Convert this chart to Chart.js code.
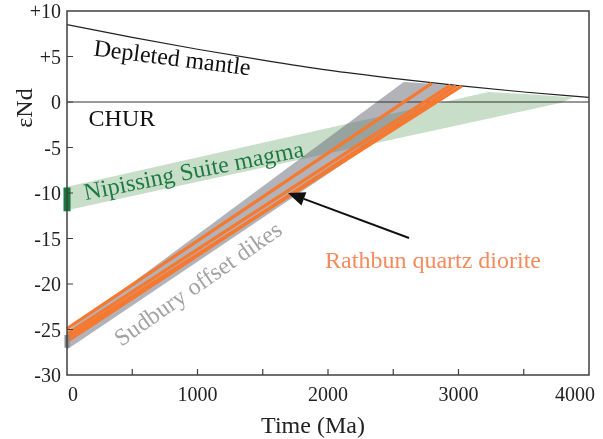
<!DOCTYPE html>
<html>
<head>
<meta charset="utf-8">
<script src="https://cdn.jsdelivr.net/npm/chart.js@4.4.1/dist/chart.umd.min.js"></script>
<style>
  body { margin: 0; background: #fff; }
  #wrap { width: 603px; height: 439px; }
</style>
</head>
<body>
<div id="wrap"><canvas id="ndChart" width="603" height="439"></canvas></div>
<script>
// Depleted mantle evolution curve (age in Ma, eNd)
const dmAge = [0, 500, 1000, 1500, 2000, 2500, 3000, 3500, 4000];
const dmEnd = [8.5, 7.1, 5.8, 4.6, 3.5, 2.6, 1.8, 1.1, 0.5];

// CHUR reference line
const churAge = [0, 4000];
const churEnd = [0, 0];

// Nipissing Suite magma band (outline)
const nipAge = [0, 3230, 3600, 3880, 3780, 0];
const nipEnd = [-9.3, 1.1, 0.8, 0.5, -0.1, -11.9];

// Sudbury offset dikes band (outline)
const sudAge = [0, 2580, 2800, 3000, 0];
const sudEnd = [-25.2, 2.2, 2.0, 1.75, -27.2];

// Rathbun quartz diorite evolution lines: present eNd -> model age / eNd
const rathStart = [-24.9, -25.5, -25.9, -26.3];
const rathAge = [2794, 2939, 3023, 2980];
const rathEnd = [2.05, 1.85, 1.75, 1.8];

// present-day sample ranges plotted on the y axis
const nipBar = [-9.4, -12.0];
const sudBar = [-25.6, -27.0];

const xTicks = [0, 1000, 2000, 3000, 4000];
const yTicks = [10, 5, 0, -5, -10, -15, -20, -25, -30];

const FONT = "'Liberation Serif', 'Times New Roman', serif";
const ORANGE = '#f7782f';

function pts(xs, ys) {
    return xs.map((x, i) => ({ x: x, y: ys[i] }));
}

// annotation text, placed in data coordinates
const labels = [
    { text: 'Depleted mantle', x: 805, y: 4.7, angle: 7.2, color: '#111' },
    { text: 'CHUR', x: 421, y: -1.9, angle: 0, color: '#111' },
    { text: 'Nipissing Suite magma', x: 973, y: -7.7, angle: -11.3, color: '#1e7a44' },
    { text: 'Sudbury offset dikes', x: 1011, y: -20.1, angle: -35, color: '#a3a3a3' },
    { text: 'Rathbun quartz diorite', x: 2805, y: -17.6, angle: 0, color: '#f58a5e' }
];
const arrowFrom = { x: 2621, y: -14.95 };
const arrowTo = { x: 1693, y: -10.0 };

const datasets = [
    {
        data: pts(nipAge, nipEnd),
        showLine: true,
        borderWidth: 0,
        borderColor: 'rgba(0,0,0,0)',
        backgroundColor: 'rgba(100,160,100,0.35)',
        fill: 'shape',
        pointRadius: 0,
        order: 10
    },
    {
        data: pts(sudAge, sudEnd),
        showLine: true,
        borderWidth: 0,
        borderColor: 'rgba(0,0,0,0)',
        backgroundColor: 'rgba(105,110,120,0.52)',
        fill: 'shape',
        pointRadius: 0,
        order: 9
    },
    {
        data: pts(churAge, churEnd),
        showLine: true,
        borderColor: '#333',
        borderWidth: 1.2,
        pointRadius: 0,
        order: 6
    },
    {
        data: pts(dmAge, dmEnd),
        showLine: true,
        borderColor: '#222',
        borderWidth: 1.2,
        cubicInterpolationMode: 'monotone',
        pointRadius: 0,
        order: 6
    }
];

rathStart.forEach((s, i) => {
    datasets.push({
        data: [{ x: 0, y: s }, { x: rathAge[i], y: rathEnd[i] }],
        showLine: true,
        borderColor: ORANGE,
        borderWidth: 3.2,
        pointRadius: 0,
        order: 4
    });
});

datasets.push({
    data: [{ x: 0, y: nipBar[0] }, { x: 0, y: nipBar[1] }],
    showLine: true,
    borderColor: '#157a3c',
    borderWidth: 7,
    pointRadius: 0,
    clip: false,
    order: 1
});
datasets.push({
    data: [{ x: 0, y: sudBar[0] }, { x: 0, y: sudBar[1] }],
    showLine: true,
    borderColor: '#8a8a8a',
    borderWidth: 5,
    pointRadius: 0,
    clip: false,
    order: 1
});

const decorations = {
    id: 'decorations',
    afterDatasetsDraw(chart) {
        const ctx = chart.ctx;
        const xs = chart.scales.x;
        const ys = chart.scales.y;
        const a = chart.chartArea;

        ctx.save();
        // frame
        ctx.strokeStyle = '#404040';
        ctx.lineWidth = 1.5;
        ctx.strokeRect(a.left, a.top, a.right - a.left, a.bottom - a.top);

        // inward ticks
        ctx.lineWidth = 1.2;
        ctx.beginPath();
        for (let v = 500; v < 4000; v += 500) {
            const px = xs.getPixelForValue(v);
            ctx.moveTo(px, a.bottom);
            ctx.lineTo(px, a.bottom - 6);
        }
        yTicks.forEach(v => {
            if (v === 10 || v === -30) return;
            const py = ys.getPixelForValue(v);
            ctx.moveTo(a.left, py);
            ctx.lineTo(a.left + 6, py);
        });
        ctx.stroke();

        // tick labels
        ctx.fillStyle = '#222';
        ctx.font = '20px ' + FONT;
        ctx.textBaseline = 'middle';
        ctx.textAlign = 'right';
        yTicks.forEach(v => {
            ctx.fillText(v > 0 ? '+' + v : String(v), a.left - 6, ys.getPixelForValue(v) + 2);
        });
        xTicks.forEach((v, i) => {
            let px = xs.getPixelForValue(v);
            if (i === 0) {
                ctx.textAlign = 'left';
                px += 1;
            } else if (i === xTicks.length - 1) {
                ctx.textAlign = 'right';
                px += 6;
            } else {
                ctx.textAlign = 'center';
            }
            ctx.fillText(String(v), px, a.bottom + 21);
        });

        // text labels
        ctx.font = '24px ' + FONT;
        ctx.textAlign = 'center';
        ctx.textBaseline = 'middle';
        labels.forEach(l => {
            ctx.save();
            ctx.translate(xs.getPixelForValue(l.x), ys.getPixelForValue(l.y));
            ctx.rotate(l.angle * Math.PI / 180);
            ctx.fillStyle = l.color;
            ctx.fillText(l.text, 0, 0);
            ctx.restore();
        });

        // arrow
        const x1 = xs.getPixelForValue(arrowFrom.x), y1 = ys.getPixelForValue(arrowFrom.y);
        const x2 = xs.getPixelForValue(arrowTo.x), y2 = ys.getPixelForValue(arrowTo.y);
        const ang = Math.atan2(y2 - y1, x2 - x1);
        const headLen = 17, headW = 7;
        const bx = x2 - headLen * Math.cos(ang), by = y2 - headLen * Math.sin(ang);
        ctx.strokeStyle = '#111';
        ctx.fillStyle = '#111';
        ctx.lineWidth = 2;
        ctx.beginPath();
        ctx.moveTo(x1, y1);
        ctx.lineTo(bx, by);
        ctx.stroke();
        ctx.beginPath();
        ctx.moveTo(x2, y2);
        ctx.lineTo(bx + headW * Math.sin(ang), by - headW * Math.cos(ang));
        ctx.lineTo(bx - headW * Math.sin(ang), by + headW * Math.cos(ang));
        ctx.closePath();
        ctx.fill();

        // axis titles
        ctx.fillStyle = '#222';
        ctx.font = '24px ' + FONT;
        ctx.fillText('Time (Ma)', 313, 427);
        ctx.save();
        ctx.translate(26, 108);
        ctx.rotate(-Math.PI / 2);
        ctx.fillText('\u03b5Nd', 0, 0);
        ctx.restore();

        ctx.restore();
    }
};

new Chart(document.getElementById('ndChart').getContext('2d'), {
    type: 'scatter',
    data: { datasets: datasets },
    options: {
        responsive: false,
        animation: false,
        layout: { padding: { top: 11, right: 14, left: 0, bottom: 0 } },
        plugins: {
            legend: { display: false },
            tooltip: { enabled: false }
        },
        elements: { line: { tension: 0 } },
        scales: {
            x: {
                type: 'linear',
                min: 0,
                max: 4000,
                grid: { display: false },
                border: { display: false },
                ticks: { display: false },
                afterFit: scale => {
                    scale.height = 64;
                    scale.paddingLeft = 0;
                    scale.paddingRight = 0;
                }
            },
            y: {
                type: 'linear',
                min: -30,
                max: 10,
                grid: { display: false },
                border: { display: false },
                ticks: { display: false },
                afterFit: scale => {
                    scale.width = 67;
                    scale.paddingTop = 0;
                    scale.paddingBottom = 0;
                }
            }
        }
    },
    plugins: [decorations]
});
</script>
</body>
</html>
